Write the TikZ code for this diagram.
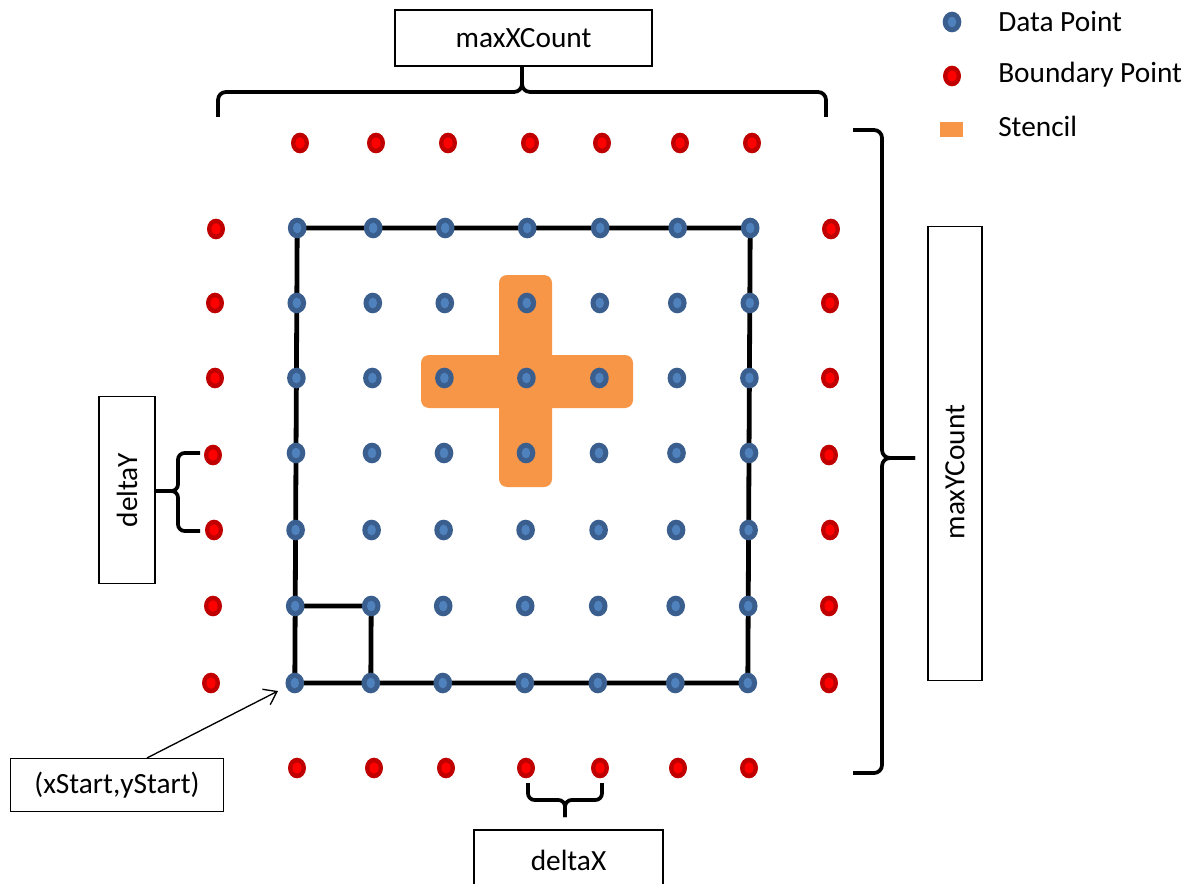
\documentclass[tikz,border=0pt]{standalone}
\usepackage{fontspec}
\setmainfont{Carlito}
\usetikzlibrary{shapes.geometric,arrows.meta,backgrounds}
\definecolor{ptblue}{HTML}{3A5F8F}
\definecolor{ptbluein}{HTML}{4F81BD}
\definecolor{ptred}{HTML}{C00000}
\definecolor{ptredin}{HTML}{FF0000}
\definecolor{stencilc}{HTML}{F79646}
\tikzset{
  datapt/.style={ellipse,fill=ptblue,inner sep=0pt,minimum width=14pt,minimum height=15.5pt,
    path picture={\fill[ptbluein] (path picture bounding box.center) ellipse (3.2pt and 4pt);}},
  bndpt/.style={ellipse,fill=ptred,inner sep=0pt,minimum width=13.5pt,minimum height=15.5pt,
    path picture={\fill[ptredin] (path picture bounding box.center) ellipse (3.4pt and 4.3pt);}},
  labelbox/.style={draw,line width=0.8pt,inner sep=0pt},
  curly/.style={line width=2.8pt,rounded corners=6pt},
}
\begin{document}
\begin{tikzpicture}[x=0.75pt,y=-0.75pt,font=\fontsize{22}{26}\selectfont]
    \useasboundingbox (0,0) rectangle (1191,884);
    %数据点
    \foreach \i/\x in {1/296,2/372,3/444,4/526,5/599,6/676.5,7/749}
      \foreach \j/\y in {1/228,2/303,3/378,4/453,5/530,6/606,7/683}
        \node[datapt] (p\i\j) at ({\x+(4-\j)*0.4},\y) {};
    %边界点
    \foreach \i/\xt/\xb in {1/300/297,2/376/374,3/448/446,4/530/526,5/602/600,6/680/678,7/752/749}
      {\node[bndpt] (bt\i) at (\xt,143) {};
       \node[bndpt] (bb\i) at (\xb,768) {};}
    \foreach \j/\y/\xl/\xr in {1/229/216/831,2/303/215/830,3/378/215/830,4/455/213/829,5/530/214/830,6/606/213/829,7/683/211/829}
      {\node[bndpt] (bl\j) at (\xl,\y) {};
       \node[bndpt] (br\j) at (\xr,\y) {};}
    %模板, 边框
    \begin{pgfonlayer}{background}
      \fill[stencilc,rounded corners=6pt] (499,275) rectangle (552,487);
      \fill[stencilc,rounded corners=6pt] (421,355) rectangle (633,408);
      \draw[line width=3.6pt] (p11.center) -- (p71.center) -- (p77.center) -- (p17.center) -- cycle;
      \draw[line width=3.6pt] (p16.center) -- (p26.center) -- (p27.center);
    \end{pgfonlayer}
    %图例
    \node[datapt] (lgdata) at (952,22) {};
    \node[bndpt] (lgbnd) at (952,76) {};
    \node[fill=stencilc,inner sep=0pt,minimum width=17pt,minimum height=11pt] (lgsten) at (951.5,129.5) {};
    \node[anchor=base west,inner sep=0pt] (lgdatatxt) at (998,32) {Data Point};
    \node[anchor=base west,inner sep=0pt] (lgbndtxt) at (998,83) {Boundary Point};
    \node[anchor=base west,inner sep=0pt] (lgstentxt) at (998,137) {Stencil};
    %标注框
    \node[labelbox,minimum width=192.75pt,minimum height=42pt] (mx) at (523.5,38) {maxXCount};
    \node[labelbox,rotate=90,minimum width=341pt,minimum height=40.5pt] (my) at (955,453.5) {};
    \node[rotate=90] (mytxt) at (955,472) {maxYCount};
    \node[labelbox,rotate=90,minimum width=140pt,minimum height=42pt] (dy) at (127,490) {deltaY};
    \node[labelbox,minimum width=141.75pt,minimum height=45pt] (dx) at (568.5,860) {deltaX};
    \node[labelbox,minimum width=159.75pt,minimum height=39.75pt] (xs) at (117,785) {(xStart,yStart)};
    %括号
    \draw[curly] (218,117) |- (522,92) -- (522,67);
    \draw[curly] (826,117) |- (522,92) -- (522,67);
    \draw[curly] (853,130) -| (882,458) -- (915,458);
    \draw[curly] (853,773) -| (882,458) -- (915,458);
    \draw[curly,rounded corners=5pt] (200,453) -| (178,491) -- (155,491);
    \draw[curly,rounded corners=5pt] (200,531) -| (178,491) -- (155,491);
    \draw[curly,rounded corners=5pt] (528,783) |- (565,800) -- (565,817);
    \draw[curly,rounded corners=5pt] (602,783) |- (565,800) -- (565,817);
    %起点箭头
    \coordinate (tip) at (278,691);
    \draw[line width=1pt,-{Straight Barb[length=9pt,width=13pt]}] ([xshift=22.5pt]xs.north) -- (tip);
\end{tikzpicture}
\end{document}
